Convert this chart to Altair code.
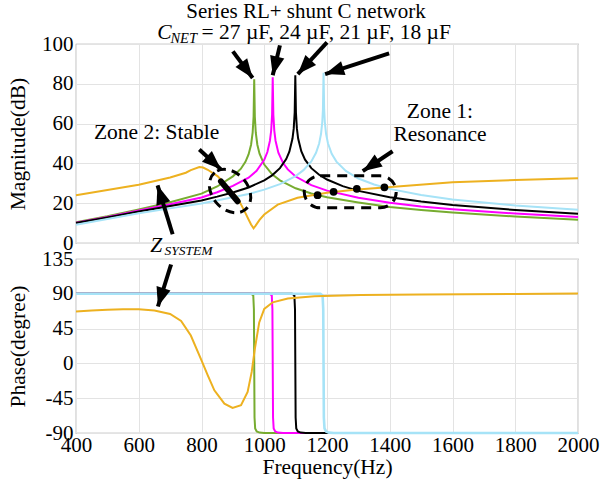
import altair as alt
import pandas as pd

FONT = "'Liberation Serif', 'Times New Roman', Times, serif"

# ---------------- data ----------------
x_ticks = [400, 600, 800, 1000, 1200, 1400, 1600, 1800, 2000]
mag_ticks = [0, 20, 40, 60, 80, 100]
phase_ticks = [-90, -45, 0, 45, 90, 135]

# magnitude (dB) curves
green_f = [400, 500, 600, 700, 800, 850, 900, 925, 940, 950, 958, 963, 966, 968, 970, 973, 978, 985,
           1000, 1025, 1050, 1100, 1150, 1200, 1300, 1400, 1500, 1600, 1800, 2000]
green_db = [10.4, 13.4, 16.9, 20.5, 24.8, 28.4, 33.5, 37.2, 40.8, 44.5, 49.4, 55.4, 63.4, 82.3, 63.4, 55.4, 49.4, 44.9,
            39.4, 34.5, 31.5, 27.5, 24.9, 23.0, 20.4, 18.1, 16.6, 15.3, 13.3, 11.7]

magenta_f = [400, 500, 600, 700, 800, 850, 900, 950, 975, 1000, 1010, 1018, 1022, 1025, 1027, 1029, 1032, 1036,
             1045, 1060, 1075, 1100, 1150, 1200, 1300, 1400, 1500, 1600, 1800, 2000]
magenta_db = [10.2, 13.1, 16.4, 19.5, 22.9, 25.5, 28.7, 32.8, 36.2, 41.8, 45.7, 51.3, 56.4, 64.4, 83.3, 64.4, 56.5, 51.4,
              45.4, 40.2, 37.0, 33.4, 29.1, 26.3, 22.7, 20.2, 18.4, 17.0, 14.8, 13.1]

black_f = [400, 500, 600, 700, 800, 850, 900, 950, 1000, 1025, 1050, 1070, 1080, 1090, 1094, 1097, 1099, 1101, 1104,
           1108, 1118, 1130, 1150, 1175, 1200, 1250, 1300, 1400, 1500, 1600, 1800, 2000]
black_db = [10.0, 12.8, 15.8, 18.6, 21.4, 23.3, 25.4, 27.9, 31.5, 34.0, 37.6, 42.2, 45.9, 52.5, 57.6, 65.6, 84.3, 65.6, 57.6,
            52.5, 46.1, 41.9, 37.6, 34.3, 31.9, 28.6, 26.2, 23.0, 20.8, 19.1, 16.6, 14.7]

blue_f = [400, 500, 600, 700, 800, 900, 950, 1000, 1050, 1100, 1125, 1150, 1165, 1175, 1181, 1185, 1187, 1189, 1191,
          1193, 1197, 1203, 1215, 1230, 1260, 1300, 1350, 1400, 1500, 1600, 1800, 2000]
blue_db = [9.2, 12.1, 14.9, 17.4, 19.9, 23.0, 24.6, 26.8, 29.6, 33.6, 36.6, 41.0, 45.3, 50.0, 54.9, 60.9, 66.9, 85.5, 67.0,
           60.9, 54.9, 50.1, 44.8, 40.9, 36.2, 32.4, 29.4, 27.2, 24.1, 21.9, 18.9, 16.7]

orange_f = [400, 500, 600, 700, 750, 766, 793, 805, 820, 852, 880, 915, 937, 950, 958, 966, 972, 985, 1000, 1043,
            1106, 1200, 1287, 1393, 1600, 1800, 2000]
orange_db = [24.0, 26.6, 29.3, 32.9, 35.3, 36.6, 38.2, 37.9, 36.8, 33.5, 28.5, 22.7, 16.0, 11.8, 9.3, 7.4, 8.6, 11.6, 14.3,
             19.3, 22.7, 25.2, 26.8, 28.0, 30.5, 31.6, 32.5]

# phase (degree) curves
green_pf = [400, 958, 965, 967, 968, 969, 971, 976, 985, 1000, 2000]
green_ph = [90, 90, 88, 70, 0, -70, -84, -88, -89.5, -90, -90]
magenta_pf = [400, 1017, 1024, 1026, 1027, 1028, 1030, 1035, 1044, 1060, 2000]
magenta_ph = [90, 90, 88, 70, 0, -70, -84, -88, -89.5, -90, -90]
black_pf = [400, 1089, 1096, 1098, 1099, 1100, 1102, 1107, 1116, 1132, 2000]
black_ph = [90, 90, 88, 70, 0, -70, -84, -88, -89.5, -90, -90]
blue_pf = [400, 1179, 1186, 1188, 1189, 1190, 1192, 1197, 1206, 1222, 2000]
blue_ph = [90, 90, 88, 70, 0, -70, -84, -88, -89.5, -90, -90]
orange_pf = [400, 450, 500, 550, 600, 650, 700, 735, 766, 800, 820, 841, 873, 899, 926, 947, 960, 970, 984, 1000,
             1027, 1075, 1160, 1308, 1500, 1800, 2000]
orange_ph = [67, 68.5, 69.5, 70, 70, 68.5, 64, 55, 36, 4, -15.5, -34.8, -52, -57.6, -54, -37, -11, 18.8, 53, 70.4,
             79, 84, 86.8, 88.5, 89.2, 89.8, 90.3]

# annotations (in data units: Hz, dB / degree)
arrow_tail_f = [900, 1050, 1200, 1398, 793, 1409, 708]
arrow_tail_v = [96.3, 99.3, 100.8, 95.3, 47.0, 46.1, 4.4]
arrow_head_f = [963, 1027, 1107, 1194, 862, 1314, 660]
arrow_head_v = [82.9, 84.3, 84.9, 84.9, 37.0, 36.1, 29.0]
arrow_angle = [143.6, 193.7, 222.7, 252.1, 132.7, 236.3, 342.4]

ph_arrow_tail = (703, 127.9)
ph_arrow_head = (661, 73.6)
ph_arrow_angle = 197.2

dots_f = [1170, 1221, 1295, 1383]
dots_db = [24.0, 25.7, 27.2, 28.0]
zone2_dash = [(862, 31.0), (915, 21.0)]
zone2_center = (891, 26.1)
zone1_center = (1274, 25.7)

COLORS = {"green": "#77AC30", "magenta": "#FF00FF", "black": "#000000",
          "blue": "#A6E3F7", "orange": "#EDB120"}

TXT = 21.5

# ---------------- helpers ----------------
xs = alt.Scale(domain=[400, 2000], nice=False, zero=False)
ys_top = alt.Scale(domain=[0, 100], nice=False, zero=False)
ys_bot = alt.Scale(domain=[-90, 135], nice=False, zero=False)

ax_top_x = alt.Axis(values=x_ticks, labels=False, ticks=False, domain=False, title=None, grid=True)
ax_top_y = alt.Axis(values=mag_ticks, title="Magnitude(dB)", labelExpr="'' + datum.value",
                    minExtent=34, maxExtent=34, titlePadding=13)
ax_bot_x = alt.Axis(values=x_ticks, title="Frequency(Hz)", labelExpr="'' + datum.value", labelPadding=1,
                    titlePadding=1, labelFlush=False)
ax_bot_y = alt.Axis(values=phase_ticks, title="Phase(degree)", labelExpr="'' + datum.value",
                    minExtent=34, maxExtent=34, titlePadding=13)


def curve(fs, vs, color, ys, axx, axy, w=2.0):
    df = pd.DataFrame({"f": fs, "v": vs})
    return alt.Chart(df).mark_line(color=color, strokeWidth=w).encode(
        x=alt.X("f:Q", scale=xs, axis=axx),
        y=alt.Y("v:Q", scale=ys, axis=axy),
    )


def enc(ch, ys, axx, axy):
    return ch.encode(x=alt.X("f:Q", scale=xs, axis=axx), y=alt.Y("v:Q", scale=ys, axis=axy))


def text(f, v, s, size=TXT, style="normal", align="center", ys=ys_top, axx=ax_top_x, axy=ax_top_y):
    df = pd.DataFrame({"f": [f], "v": [v], "t": [s]})
    return enc(alt.Chart(df).mark_text(font=FONT, fontSize=size, fontStyle=style, align=align,
                                       baseline="middle", color="black"), ys, axx, axy).encode(text="t:N")


ARROW = "M0,0 L-0.8,2.1 L0.8,2.1 Z"
ELLIPSE = "M-2.4,0 A2.4,1.8 0 1,0 2.4,0 A2.4,1.8 0 1,0 -2.4,0 Z"
STADIUM = "M-3,-1.6 L3,-1.6 A1.6,1.6 0 0,1 3,1.6 L-3,1.6 A1.6,1.6 0 0,1 -3,-1.6 Z"

# ---------------- top panel ----------------
arr = pd.DataFrame({"f": arrow_tail_f, "v": arrow_tail_v, "f2": arrow_head_f, "v2": arrow_head_v,
                    "hf": arrow_head_f, "hv": arrow_head_v, "a": arrow_angle})
shafts = alt.Chart(arr).mark_rule(color="black", strokeWidth=4).encode(
    x=alt.X("f:Q", scale=xs, axis=ax_top_x), y=alt.Y("v:Q", scale=ys_top, axis=ax_top_y),
    x2="f2:Q", y2="v2:Q")
heads = alt.Chart(arr).mark_point(shape=ARROW, size=330, filled=True, color="black", opacity=1).encode(
    x=alt.X("hf:Q", scale=xs, axis=ax_top_x), y=alt.Y("hv:Q", scale=ys_top, axis=ax_top_y),
    angle=alt.Angle("a:Q", scale=None))

dots = enc(alt.Chart(pd.DataFrame({"f": dots_f, "v": dots_db})).mark_circle(size=60, color="black", opacity=1),
           ys_top, ax_top_x, ax_top_y)
dash_df = pd.DataFrame({"f": [zone2_dash[0][0]], "v": [zone2_dash[0][1]],
                        "f2": [zone2_dash[1][0]], "v2": [zone2_dash[1][1]]})
thick = alt.Chart(dash_df).mark_rule(color="black", strokeWidth=6, strokeCap="round").encode(
    x=alt.X("f:Q", scale=xs, axis=ax_top_x), y=alt.Y("v:Q", scale=ys_top, axis=ax_top_y),
    x2="f2:Q", y2="v2:Q")
ell2 = enc(alt.Chart(pd.DataFrame({"f": [zone2_center[0]], "v": [zone2_center[1]]})).mark_point(
    shape=ELLIPSE, size=400, filled=False, color="black", strokeWidth=3, strokeDash=[9, 6], angle=50,
    opacity=1), ys_top, ax_top_x, ax_top_y)
ell1 = enc(alt.Chart(pd.DataFrame({"f": [zone1_center[0]], "v": [zone1_center[1]]})).mark_point(
    shape=STADIUM, size=400, filled=False, color="black", strokeWidth=3, strokeDash=[10, 7],
    opacity=1), ys_top, ax_top_x, ax_top_y)

top = alt.layer(
    curve(green_f, green_db, COLORS["green"], ys_top, ax_top_x, ax_top_y),
    curve(magenta_f, magenta_db, COLORS["magenta"], ys_top, ax_top_x, ax_top_y),
    curve(black_f, black_db, COLORS["black"], ys_top, ax_top_x, ax_top_y),
    curve(blue_f, blue_db, COLORS["blue"], ys_top, ax_top_x, ax_top_y),
    curve(orange_f, orange_db, COLORS["orange"], ys_top, ax_top_x, ax_top_y),
    ell2, ell1, thick, dots, shafts, heads,
    text(1133, 116.2, "Series RL+ shunt C network", size=21),
    text(659, 105.3, "C", style="italic", align="left"),
    text(701, 102.6, "NET", size=14.5, style="italic", align="left"),
    text(800, 105.3, "= 27 µF, 24 µF, 21 µF, 18 µF", align="left"),
    text(657, 55.2, "Zone 2: Stable"),
    text(1560, 65.8, "Zone 1:"),
    text(1560, 54.3, "Resonance"),
    text(637, -1.5, "Z", style="italic", align="left"),
    text(682, -4.0, "SYSTEM", size=13.5, style="italic", align="left"),
).properties(width=502, height=199)

# ---------------- bottom panel ----------------
ph_arr = pd.DataFrame({"f": [ph_arrow_tail[0]], "v": [ph_arrow_tail[1]], "f2": [ph_arrow_head[0]],
                       "v2": [ph_arrow_head[1]], "hf": [ph_arrow_head[0]], "hv": [ph_arrow_head[1]],
                       "a": [ph_arrow_angle]})
ph_shaft = alt.Chart(ph_arr).mark_rule(color="black", strokeWidth=4).encode(
    x=alt.X("f:Q", scale=xs, axis=ax_bot_x), y=alt.Y("v:Q", scale=ys_bot, axis=ax_bot_y),
    x2="f2:Q", y2="v2:Q")
ph_head = alt.Chart(ph_arr).mark_point(shape=ARROW, size=330, filled=True, color="black", opacity=1).encode(
    x=alt.X("hf:Q", scale=xs, axis=ax_bot_x), y=alt.Y("hv:Q", scale=ys_bot, axis=ax_bot_y),
    angle=alt.Angle("a:Q", scale=None))

bottom = alt.layer(
    curve(green_pf, green_ph, COLORS["green"], ys_bot, ax_bot_x, ax_bot_y),
    curve(magenta_pf, magenta_ph, COLORS["magenta"], ys_bot, ax_bot_x, ax_bot_y),
    curve(black_pf, black_ph, COLORS["black"], ys_bot, ax_bot_x, ax_bot_y),
    curve(blue_pf, blue_ph, COLORS["blue"], ys_bot, ax_bot_x, ax_bot_y, w=2.6),
    curve(orange_pf, orange_ph, COLORS["orange"], ys_bot, ax_bot_x, ax_bot_y),
    ph_shaft, ph_head,
).properties(width=502, height=174)

chart = alt.vconcat(top, bottom, spacing=16, bounds="flush").properties(
    padding={"left": 6, "top": 0, "right": 5, "bottom": 3}
).configure_axis(
    labelFont=FONT, titleFont=FONT, labelFontSize=21, titleFontSize=21.5, titleFontWeight="normal",
    labelColor="black", titleColor="black", gridColor="#e3e3e3", gridWidth=1, domain=False, ticks=False,
    labelPadding=3, labelOverlap=False,
).configure_view(stroke="#9a9a9a", strokeWidth=1.2)

chart.save("out.html", embed_options={"renderer": "svg", "actions": False})
